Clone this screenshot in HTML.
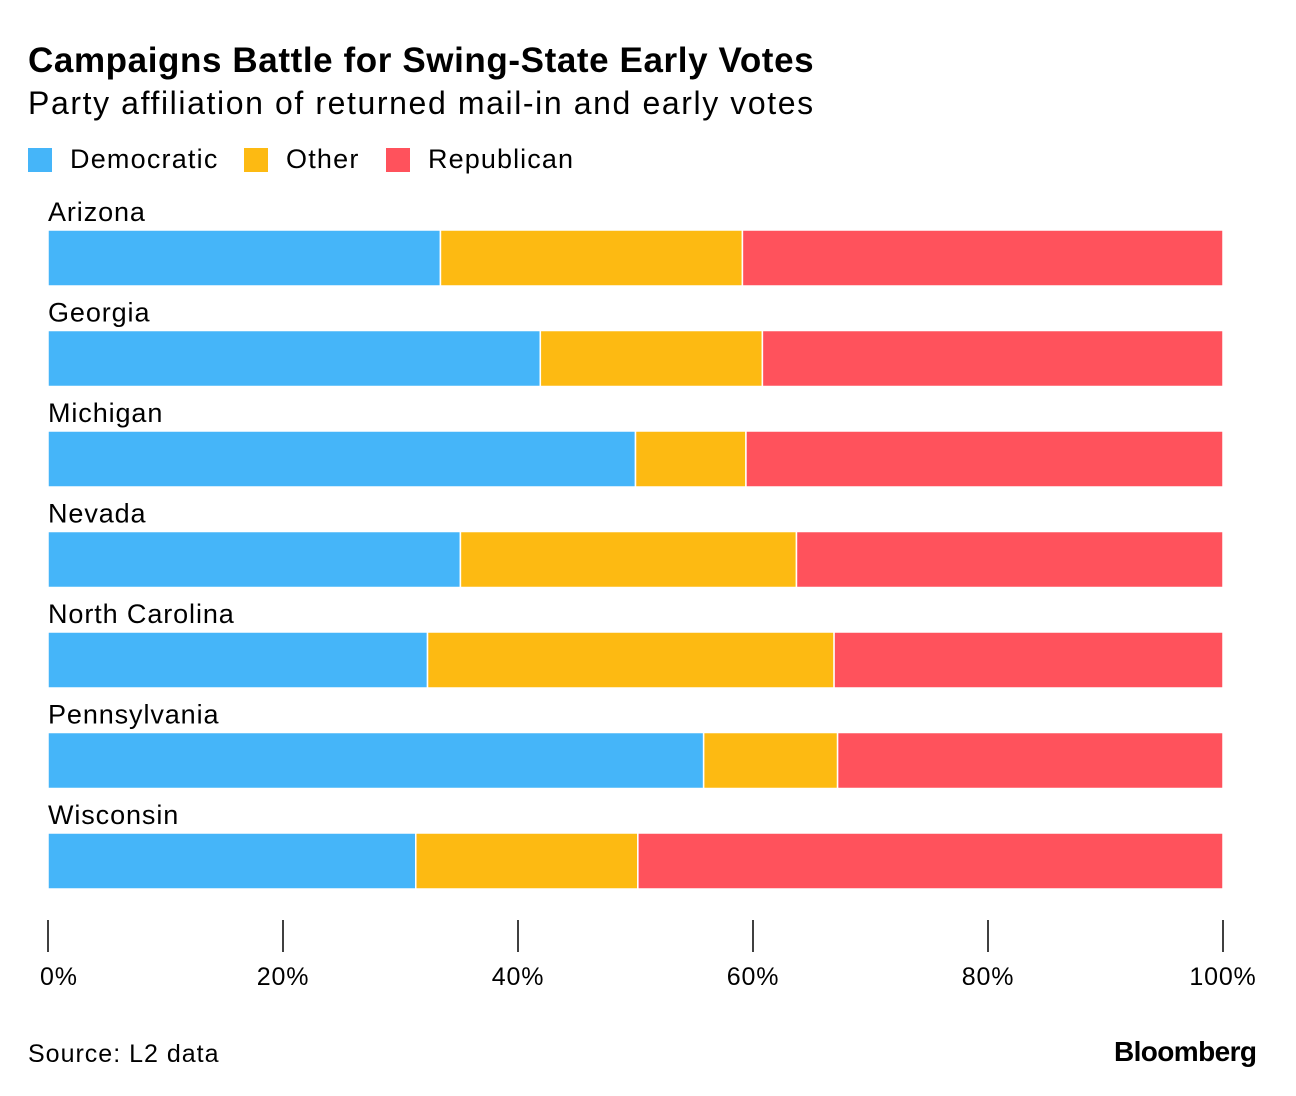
<!DOCTYPE html>
<html><head><meta charset="utf-8"><style>
body{margin:0;background:#fff;font-family:"Liberation Sans",sans-serif;color:#000}
#wrap{position:relative;width:1296px;height:1096px;overflow:hidden}
.t{position:absolute;white-space:nowrap}
</style></head><body>
<div id="wrap">
<div class="t" style="left:28px;top:41px;font-size:35px;font-weight:bold;letter-spacing:0.6px">Campaigns Battle for Swing-State Early Votes</div>
<div class="t" style="left:28px;top:85px;font-size:32px;letter-spacing:1.6px">Party affiliation of returned mail-in and early votes</div>
<div>
<div class="t" style="left:28px;top:148px;width:24px;height:24px;background:#45b5f9"></div>
<div class="t" style="left:70px;top:144px;font-size:27px;letter-spacing:1.2px">Democratic</div>
<div class="t" style="left:244px;top:148px;width:24px;height:24px;background:#fdba12"></div>
<div class="t" style="left:286px;top:144px;font-size:27px;letter-spacing:1.2px">Other</div>
<div class="t" style="left:386px;top:148px;width:24px;height:24px;background:#ff525c"></div>
<div class="t" style="left:428px;top:144px;font-size:27px;letter-spacing:1.1px">Republican</div>
</div>
<svg id="svg" width="1296" height="1096" style="position:absolute;left:0;top:0"></svg>
<div class="t" style="left:28px;top:1040px;font-size:25px;letter-spacing:1px">Source: L2 data</div>
<div class="t" style="left:1114px;top:1036px;font-size:28px;font-weight:bold;letter-spacing:-0.6px">Bloomberg</div>
</div>
<script>
const states=["Arizona","Georgia","Michigan","Nevada","North Carolina","Pennsylvania","Wisconsin"];
const democratic=[33.4,41.9,50.0,35.1,32.3,55.8,31.3];
const other=[25.7,18.9,9.4,28.6,34.6,11.4,18.9];
const republican=[40.9,39.2,40.6,36.3,33.1,32.8,49.8];
const ticks=[0,20,40,60,80,100];
const tickLabels=["0%","20%","40%","60%","80%","100%"];
const NS="http://www.w3.org/2000/svg";
const svg=document.getElementById('svg');
const x=v=>48+v*11.75;
const y=i=>230+i*100.5;
function mk(t,a){const e=document.createElementNS(NS,t);for(const k in a)e.setAttribute(k,a[k]);svg.appendChild(e);return e;}
const series=[["democratic",democratic,"#45b5f9"],["other",other,"#fdba12"],["republican",republican,"#ff525c"]];
states.forEach((s,i)=>{
  const lab=mk('text',{x:48,y:y(i)-9,'font-size':27,'letter-spacing':0.9,'font-family':'Liberation Sans, sans-serif'});
  lab.textContent=s;
  
  
  let acc=0;
  series.forEach(([n,arr,c])=>{
    const r=mk('rect',{x:x(acc),y:y(i),width:x(acc+arr[i])-x(acc),height:56,fill:c,stroke:'#fff','stroke-width':1.5});
    
    
    acc+=arr[i];
  });
});
ticks.forEach((t,i)=>{
  const l=mk('line',{x1:x(t),x2:x(t),y1:920,y2:952,stroke:'#000','stroke-width':1.5});
  
  
  const tx=mk('text',{x:i===0?40:x(t),y:985,'font-size':25,'letter-spacing':0.8,'text-anchor':i===0?'start':'middle','font-family':'Liberation Sans, sans-serif'});
  tx.textContent=tickLabels[i];
  
  
});
</script>
</body></html>
